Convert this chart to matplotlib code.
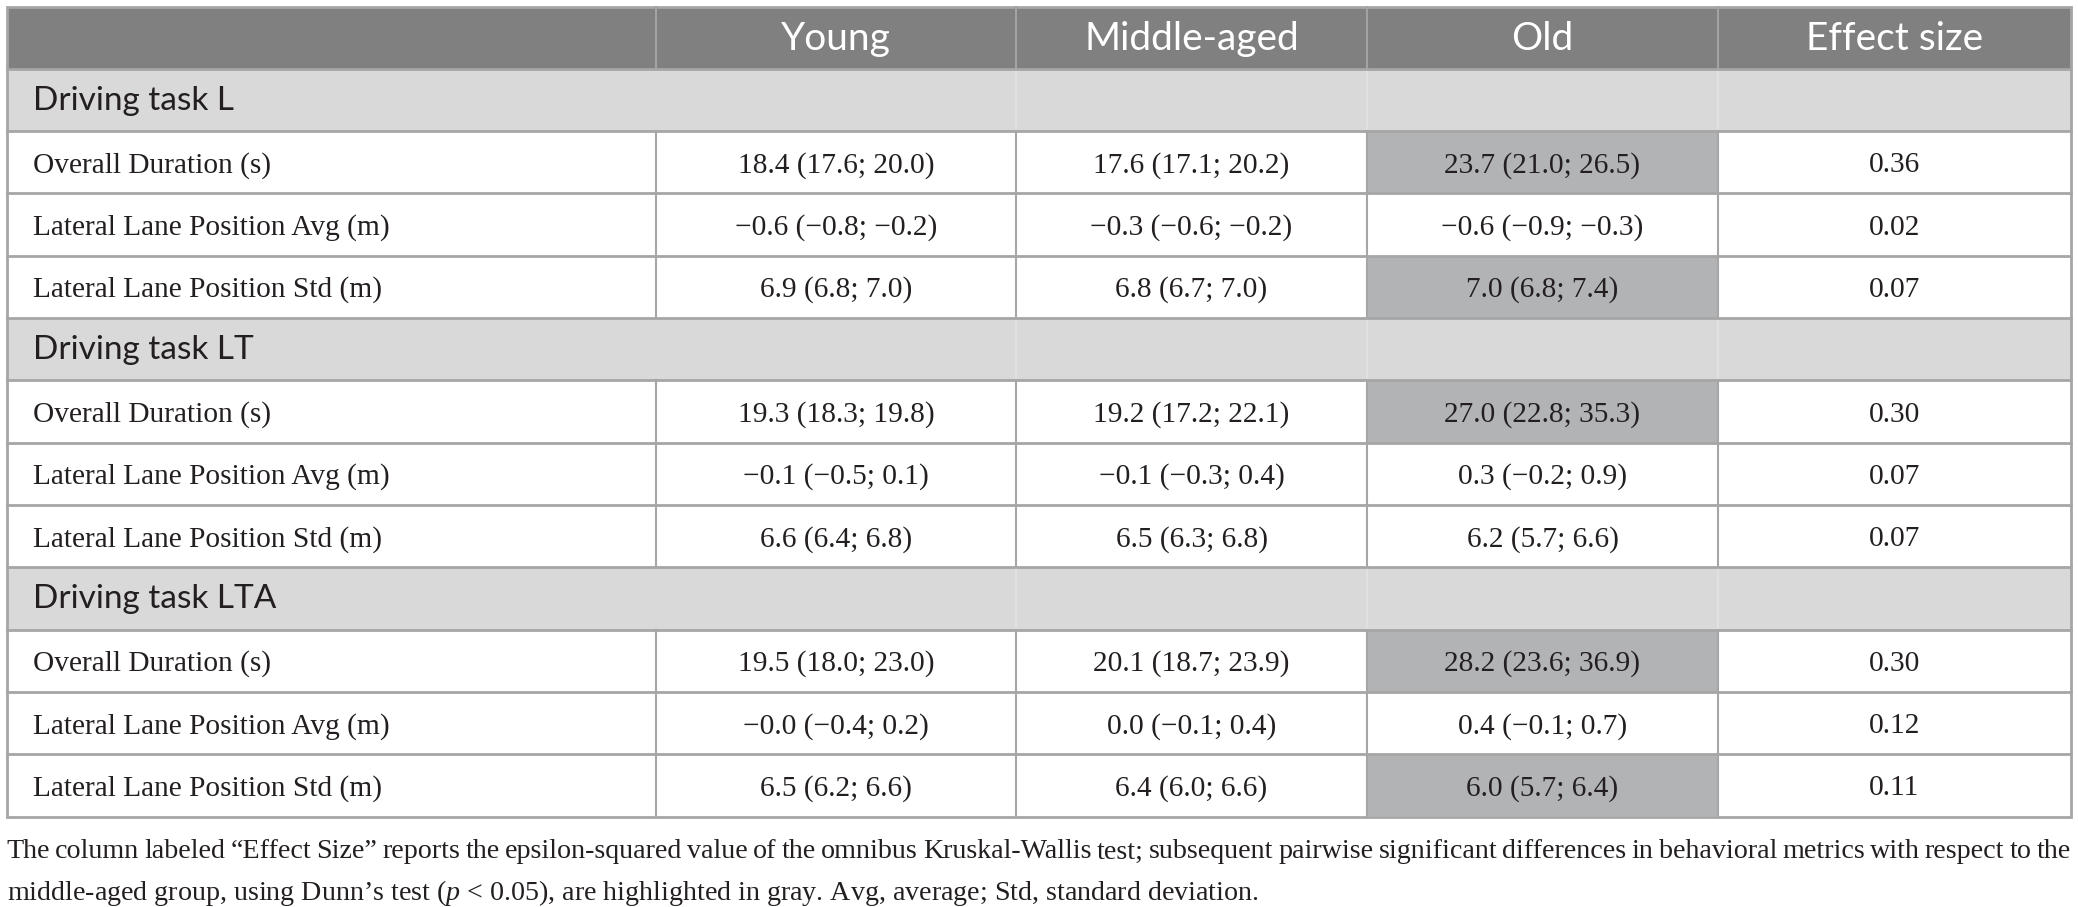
import matplotlib
matplotlib.use('Agg')
import matplotlib.pyplot as plt
from matplotlib.patches import Rectangle

plt.rcParams['mathtext.fontset'] = 'custom'
plt.rcParams['mathtext.rm'] = 'Liberation Serif'
plt.rcParams['mathtext.it'] = 'Liberation Serif:italic'

# table content
groups = ['Young', 'Middle-aged', 'Old']
tasks = ['Driving task L', 'Driving task LT', 'Driving task LTA']
metrics = ['Overall Duration (s)', 'Lateral Lane Position Avg (m)', 'Lateral Lane Position Std (m)']
median = [[18.4, 17.6, 23.7], [-0.6, -0.3, -0.6], [6.9, 6.8, 7.0],
          [19.3, 19.2, 27.0], [-0.1, -0.1, 0.3], [6.6, 6.5, 6.2],
          [19.5, 20.1, 28.2], [-0.0, 0.0, 0.4], [6.5, 6.4, 6.0]]
q1 = [[17.6, 17.1, 21.0], [-0.8, -0.6, -0.9], [6.8, 6.7, 6.8],
      [18.3, 17.2, 22.8], [-0.5, -0.3, -0.2], [6.4, 6.3, 5.7],
      [18.0, 18.7, 23.6], [-0.4, -0.1, -0.1], [6.2, 6.0, 5.7]]
q3 = [[20.0, 20.2, 26.5], [-0.2, -0.2, -0.3], [7.0, 7.0, 7.4],
      [19.8, 22.1, 35.3], [0.1, 0.4, 0.9], [6.8, 6.8, 6.6],
      [23.0, 23.9, 36.9], [0.2, 0.4, 0.7], [6.6, 6.6, 6.4]]
effect = [0.36, 0.02, 0.07, 0.30, 0.07, 0.07, 0.30, 0.12, 0.11]
highlight = [[0, 0, 1], [0, 0, 0], [0, 0, 1],
             [0, 0, 1], [0, 0, 0], [0, 0, 0],
             [0, 0, 1], [0, 0, 0], [0, 0, 1]]
note1 = ('The column labeled \u201cEffect Size\u201d reports the epsilon-squared value of the omnibus '
         'Kruskal-Wallis test; subsequent pairwise significant differences in behavioral metrics '
         'with respect to the')
note2 = ('middle-aged group, using Dunn\u2019s test ($p$ < 0.05), are highlighted in gray. '
         'Avg, average; Std, standard deviation.')


def fmt(v):
	return f'{v:.1f}'.replace('-', '\u2212')


W, H = 2078, 907
fig = plt.figure(figsize=(W / 100, H / 100), dpi=100)
ax = fig.add_axes([0, 0, 1, 1])
ax.set_xlim(0, W)
ax.set_ylim(H, 0)
ax.axis('off')

col_x = [6.6, 656, 1016, 1367, 1718, 2071]
top = 6.6
row_h = 62.3
n_rows = 1 + len(tasks) * (1 + len(metrics))
bottom = top + n_rows * row_h

HEAD = '#808080'
SECT = '#d9d9d9'
HIGH = '#b2b3b5'
LINE = '#a6a6a6'
INK = '#231f20'
SANS = 'Lato'
SERIF = 'Liberation Serif'
BODY = 21.2
NOTE = 20.2

# header row
ax.add_patch(Rectangle((col_x[0], top), col_x[-1] - col_x[0], row_h, color=HEAD, lw=0))
for j, g in enumerate(groups + ['Effect size']):
	cx = (col_x[j + 1] + col_x[j + 2]) / 2
	ax.text(cx, top + row_h / 2 + 1, g, ha='center', va='center', color='white',
	        fontsize=28, family=SANS)
for x in col_x[1:-1]:
	ax.plot([x, x], [top, top + row_h], color='#a3a3a3', lw=1.5)

r = 1
for t, task in enumerate(tasks):
	y0 = top + r * row_h
	ax.add_patch(Rectangle((col_x[0], y0), col_x[-1] - col_x[0], row_h, color=SECT, lw=0))
	for x in col_x[2:-1]:
		ax.plot([x, x], [y0, y0 + row_h], color='#e3e3e3', lw=1.2)
	ax.text(33, y0 + row_h / 2 + 1, task, ha='left', va='center', color=INK,
	        fontsize=24, family=SANS)
	r += 1
	for m, metric in enumerate(metrics):
		i = t * len(metrics) + m
		y0 = top + r * row_h
		for j in range(3):
			if highlight[i][j]:
				ax.add_patch(Rectangle((col_x[j + 1], y0), col_x[j + 2] - col_x[j + 1], row_h,
				                       color=HIGH, lw=0))
			cx = (col_x[j + 1] + col_x[j + 2]) / 2
			s = f'{fmt(median[i][j])} ({fmt(q1[i][j])}; {fmt(q3[i][j])})'
			ax.text(cx, y0 + row_h / 2 + 3, s, ha='center', va='center', color=INK,
			        fontsize=BODY, family=SERIF)
		cx = (col_x[4] + col_x[5]) / 2
		ax.text(cx, y0 + row_h / 2 + 3, f'{effect[i]:.2f}', ha='center', va='center',
		        color=INK, fontsize=BODY, family=SERIF)
		ax.text(33, y0 + row_h / 2 + 3, metric, ha='left', va='center', color=INK,
		        fontsize=BODY, family=SERIF)
		for x in col_x[1:-1]:
			ax.plot([x, x], [y0, y0 + row_h], color=LINE, lw=1.5)
		r += 1

# horizontal rules and outer border
for k in range(1, n_rows):
	y = top + k * row_h
	ax.plot([col_x[0], col_x[-1]], [y, y], color=LINE, lw=2)
ax.add_patch(Rectangle((col_x[0], top), col_x[-1] - col_x[0], bottom - top,
                       fill=False, edgecolor=LINE, lw=2))

# footnote, first line justified
renderer = fig.canvas.get_renderer()
words = note1.split(' ')
arts = [ax.text(0, 849, w, ha='left', va='center_baseline', color=INK, fontsize=NOTE,
                family=SERIF) for w in words]
widths = [a.get_window_extent(renderer).width for a in arts]
gap = (col_x[-1] - col_x[0] - sum(widths)) / (len(words) - 1)
x = col_x[0]
for a, w in zip(arts, widths):
	a.set_x(x)
	x += w + gap
ax.text(col_x[0], 889, note2, ha='left', va='center_baseline', color=INK, fontsize=NOTE,
        family=SERIF)

fig.savefig('out.png', dpi=100)
